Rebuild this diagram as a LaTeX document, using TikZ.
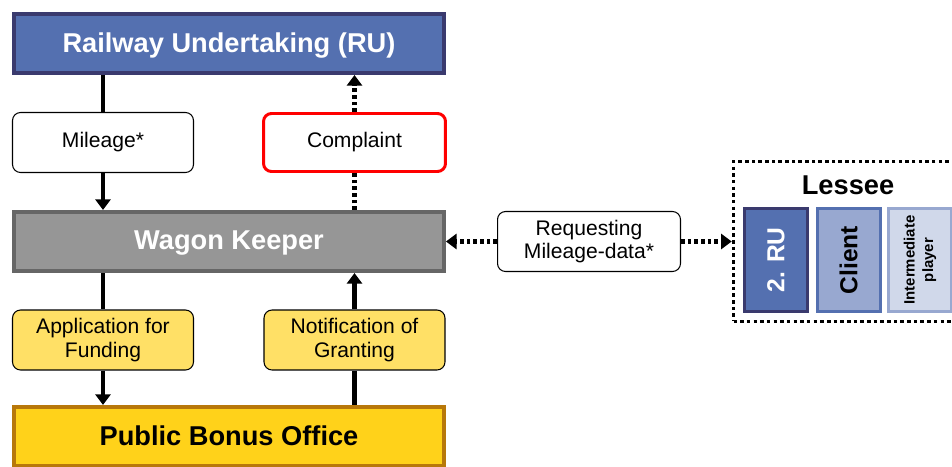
\documentclass[tikz,border=0pt]{standalone}
\usepackage{fontspec}
\setmainfont{Liberation Sans}
\usetikzlibrary{positioning,arrows.meta}
\definecolor{ruBlue}{RGB}{84,112,176}
\definecolor{ruBorder}{RGB}{58,58,110}
\definecolor{keeperGray}{RGB}{150,150,150}
\definecolor{keeperBorder}{RGB}{102,102,102}
\definecolor{bonusYellow}{RGB}{255,210,26}
\definecolor{bonusBorder}{RGB}{184,120,10}
\definecolor{labelYellow}{RGB}{255,224,102}
\definecolor{clientBlue}{RGB}{152,168,208}
\definecolor{playerBlue}{RGB}{208,216,234}
\tikzstyle{pixels} = [x = .02cm, y = -.02cm]
\tikzstyle{actorBox} = [minimum width=8.6cm, minimum height=1.18cm, line width=2.3pt, inner sep=0pt, text depth=.2ex, font=\fontsize{15.5}{18}\selectfont\bfseries]
\tikzstyle{labelBox} = [draw=black, fill=white, rounded corners=.16cm, line width=.6pt, minimum width=3.62cm, minimum height=1.2cm, inner sep=0pt, align=center, font=\fontsize{12}{13.5}\selectfont]
\tikzstyle{lesseeBox} = [rotate=90, minimum width=2.06cm, minimum height=1.26cm, line width=1.7pt, inner sep=0pt, align=center]
\tikzstyle{tip} = [-{Triangle[width=8.5pt,length=6pt]}]
\tikzstyle{solidLink} = [line width=2.3pt]
\tikzstyle{dotLink} = [line width=2.3pt, dash pattern=on 2pt off 1.8pt]

\begin{document}
\begin{tikzpicture}[pixels]
  \useasboundingbox (0,0) rectangle (952,466);
  % actors
  \node[actorBox, draw=ruBorder, fill=ruBlue, text=white] (ru) at (229,43.5) {Railway Undertaking (RU)};
  \node[actorBox, draw=keeperBorder, fill=keeperGray, text=white] (keeper) at (229,241.5) {Wagon Keeper};
  \node[actorBox, draw=bonusBorder, fill=bonusYellow] (bonus) at (229,436.5) {Public Bonus Office};
  % messages
  \node[labelBox] (mileage) at (103,142.5) {Mileage*};
  \node[labelBox, draw=red, line width=1.7pt, minimum width=3.64cm, minimum height=1.16cm] (complaint) at (354.5,142.5) {Complaint};
  \node[labelBox, fill=labelYellow] (application) at (103,340) {Application for\\Funding};
  \node[labelBox, fill=labelYellow] (notification) at (354.5,340) {Notification of\\Granting};
  \node[labelBox, minimum width=3.66cm] (request) at (589,241.5) {Requesting\\Mileage-data*};
  % lessee
  \node[draw, line width=2.1pt, dash pattern=on 2pt off 1.8pt, minimum width=4.56cm, minimum height=3.2cm] (lessee) at (847.5,241.5) {};
  \node[font=\fontsize{15.5}{18}\selectfont\bfseries] (lesseeTitle) at (848,185) {Lessee};
  \node[lesseeBox, draw=ruBorder, fill=ruBlue, text=white, font=\fontsize{14}{16}\selectfont\bfseries] (secondRu) at (776,260) {2. RU};
  \node[lesseeBox, draw=ruBlue, fill=clientBlue, font=\fontsize{14}{16}\selectfont\bfseries] (client) at (848.5,260) {Client};
  \node[lesseeBox, draw=clientBlue, fill=playerBlue, font=\fontsize{8.5}{10.4}\selectfont\bfseries] (player) at (920,260) {Intermediate\\player};
  % links
  \draw[solidLink] (ru.south -| mileage) -- (mileage);
  \draw[solidLink, tip] (mileage) -- (mileage |- keeper.north);
  \draw[solidLink] (keeper.south -| application) -- (application);
  \draw[solidLink, tip] (application) -- (application |- bonus.north);
  \draw[dotLink, tip] (complaint) -- (complaint |- ru.south);
  \draw[dotLink] (keeper.north -| complaint) -- (complaint);
  \draw[solidLink] (bonus.north -| notification) -- (notification);
  \draw[solidLink, tip] (notification) -- (notification |- keeper.south);
  \draw[dotLink, tip] (request) -- (keeper);
  \draw[dotLink, tip] (request) -- (lessee);
\end{tikzpicture}
\end{document}
